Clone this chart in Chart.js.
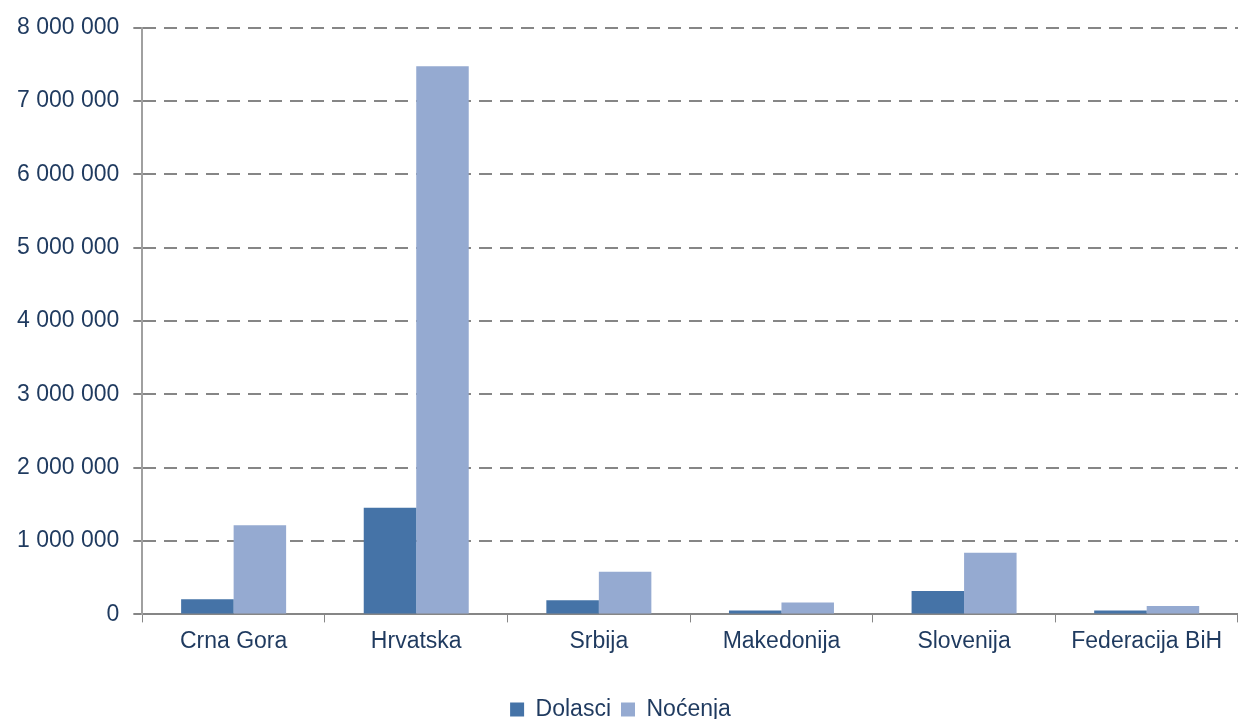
<!DOCTYPE html>
<html>
<head>
<meta charset="utf-8">
<script src="https://cdn.jsdelivr.net/npm/chart.js@4.4.0/dist/chart.umd.min.js"></script>
<style>
    html, body { margin: 0; padding: 0; background: #fff; }
    #wrap { width: 1238px; height: 719px; position: relative; }
</style>
</head>
<body>
<div id="wrap"><canvas id="grafikon"></canvas></div>
<script>
// Podaci
const kategorije = ['Crna Gora', 'Hrvatska', 'Srbija', 'Makedonija', 'Slovenija', 'Federacija BiH'];
const dolasci = [208000, 1454000, 194000, 52000, 318000, 52000];
const nocenja = [1215000, 7476000, 582000, 162000, 842000, 116000];

const tekst = '#1F3A5F';
const siva = '#868686';
const font = 'Liberation Sans, Arial';

function formatBroj(v) {
    return String(v).replace(/\B(?=(\d{3})+(?!\d))/g, ' ');
}

const ctx = document.getElementById('grafikon').getContext('2d');
new Chart(ctx, {
    type: 'bar',
    data: {
        labels: kategorije,
        datasets: [{
            label: 'Dolasci',
            data: dolasci,
            backgroundColor: '#4573A7',
            categoryPercentage: 0.575,
            barPercentage: 1.0
        }, {
            label: 'Noćenja',
            data: nocenja,
            backgroundColor: '#95AAD1',
            categoryPercentage: 0.575,
            barPercentage: 1.0
        }]
    },
    options: {
        responsive: true,
        maintainAspectRatio: false,
        animation: false,
        layout: { padding: { left: 3, right: 0, top: 13, bottom: -12 } },
        plugins: {
            legend: {
                position: 'bottom',
                labels: {
                    color: tekst,
                    font: { family: font, size: 23 },
                    boxWidth: 14,
                    boxHeight: 14,
                    padding: 10
                }
            },
            tooltip: { enabled: false }
        },
        scales: {
            x: {
                grid: {
                    drawOnChartArea: false,
                    drawTicks: true,
                    tickLength: 8,
                    color: siva,
                    offset: true
                },
                border: { color: siva, width: 2 },
                ticks: {
                    color: tekst,
                    font: { family: font, size: 23 },
                    padding: 5
                },
                // prazan prostor ispod naziva kategorija
                afterFit: scale => { scale.height += 28; }
            },
            y: {
                min: 0,
                max: 8000000,
                ticks: {
                    stepSize: 1000000,
                    color: tekst,
                    font: { family: font, size: 23 },
                    padding: 14,
                    callback: v => formatBroj(v)
                },
                grid: {
                    color: siva,
                    lineWidth: 2,
                    tickLength: 9,
                    drawTicks: true
                },
                border: { color: '#A0A0A0', width: 2, dash: [13, 8] }
            }
        }
    }
});
</script>
</body>
</html>
